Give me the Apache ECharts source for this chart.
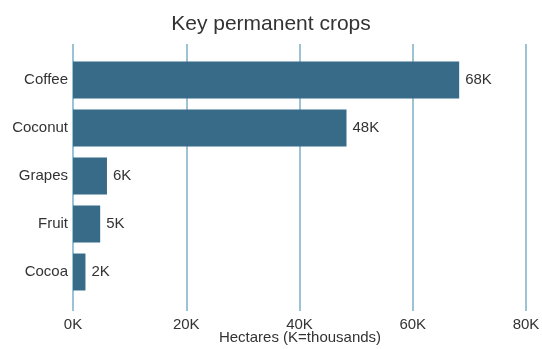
<!DOCTYPE html>
<html><head><meta charset="utf-8">
<script src="https://cdn.jsdelivr.net/npm/echarts@6/dist/echarts.min.js"></script>
<style>html,body{margin:0;padding:0;background:#fff}#c{width:542px;height:349px}</style>
</head><body><div id="c"></div>
<script>
const categories = ['Coffee', 'Coconut', 'Grapes', 'Fruit', 'Cocoa'];
const values = [68200, 48300, 6000, 4800, 2200];
const valueLabels = ['68K', '48K', '6K', '5K', '2K'];
const tickLabels = ['0K', '20K', '40K', '60K', '80K'];
const axisTitle = 'Hectares (K=thousands)';

const chart = echarts.init(document.getElementById('c'), null, {renderer: 'canvas'});
const font = 'Liberation Sans, Arial, sans-serif';
chart.setOption({
  animation: false,
  title: {
    text: 'Key permanent crops', left: 'center', top: 9,
    textStyle: {fontFamily: font, fontSize: 21, fontWeight: 'normal', color: '#333'}
  },
  graphic: [{
    type: 'text', x: 300, y: 330, silent: true,
    style: {
      text: axisTitle, textAlign: 'center', textVerticalAlign: 'top',
      fontFamily: font, fontSize: 15, fill: '#333'
    }
  }],
  grid: [
    {left: 73, right: 16, top: 44, bottom: 38, containLabel: false, outerBoundsMode: 'none'},
    {left: 73, right: 16, top: 56, bottom: 53, containLabel: false, outerBoundsMode: 'none'}
  ],
  xAxis: [
    {
      gridIndex: 0, type: 'value', min: 0, max: 80000, interval: 20000,
      axisLine: {show: false}, axisTick: {show: false},
      axisLabel: {
        margin: 6, color: '#333', fontFamily: font, fontSize: 15,
        formatter: (v) => tickLabels[Math.round(v / 20000)]
      },
      splitLine: {show: true, lineStyle: {color: '#7aafc4', width: 1.5}}
    },
    {
      gridIndex: 1, type: 'value', min: 0, max: 80000, interval: 20000, show: false
    }
  ],
  yAxis: [
    {gridIndex: 0, type: 'category', data: categories, show: false, inverse: true},
    {
      gridIndex: 1, type: 'category', data: categories, inverse: true,
      axisLine: {show: false}, axisTick: {show: false},
      axisLabel: {margin: 5, color: '#333', fontFamily: font, fontSize: 15}
    }
  ],
  series: [{
    type: 'bar', xAxisIndex: 1, yAxisIndex: 1,
    data: values, barCategoryGap: '23%',
    itemStyle: {color: '#376b87'},
    label: {
      show: true, position: 'right', distance: 6,
      color: '#333', fontFamily: font, fontSize: 15,
      formatter: (p) => valueLabels[p.dataIndex]
    }
  }]
});
</script></body></html>
